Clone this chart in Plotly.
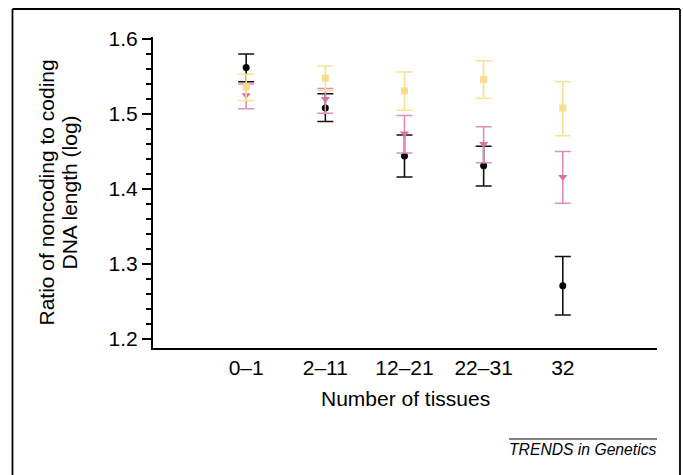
import plotly.graph_objects as go

categories = ["0–1", "2–11", "12–21", "22–31", "32"]

# Series: black circles
black_y = [1.562, 1.508, 1.444, 1.431, 1.271]
black_hi = [1.580, 1.527, 1.472, 1.457, 1.310]
black_lo = [1.543, 1.490, 1.416, 1.404, 1.232]

# Series: pink triangles
pink_y = [1.525, 1.520, 1.474, 1.460, 1.416]
pink_hi = [1.540, 1.534, 1.498, 1.483, 1.450]
pink_lo = [1.507, 1.501, 1.448, 1.435, 1.381]

# Series: yellow squares
yellow_y = [1.536, 1.548, 1.531, 1.546, 1.508]
yellow_hi = [1.553, 1.564, 1.556, 1.571, 1.543]
yellow_lo = [1.518, 1.531, 1.505, 1.521, 1.471]

y_ticks = [1.2, 1.3, 1.4, 1.5, 1.6]

FONT = "Liberation Sans, Arial, Helvetica, sans-serif"
FS = 21


def series(y, hi, lo, color, bar_color, symbol, size):
    return go.Scatter(
        x=categories,
        y=y,
        mode="markers",
        marker=dict(color=color, symbol=symbol, size=size, line=dict(width=0)),
        error_y=dict(
            type="data",
            symmetric=False,
            array=[h - v for h, v in zip(hi, y)],
            arrayminus=[v - l for v, l in zip(y, lo)],
            color=bar_color,
            thickness=1.6,
            width=8,
        ),
        showlegend=False,
        cliponaxis=False,
    )


fig = go.Figure()
fig.add_trace(series(black_y, black_hi, black_lo, "#000000", "#111111", "circle", 7))
fig.add_trace(series(pink_y, pink_hi, pink_lo, "#D672A5", "#E08DB9", "triangle-down", 8))
fig.add_trace(series(yellow_y, yellow_hi, yellow_lo, "#F8DC8C", "#F9E196", "square", 7))

fig.update_layout(
    width=683,
    height=475,
    margin=dict(l=153, r=26, t=37, b=127),
    paper_bgcolor="white",
    plot_bgcolor="white",
    font=dict(family=FONT, color="#000000", size=FS),
    xaxis=dict(
        type="category",
        range=[-1.177, 5.19],
        showline=True,
        linecolor="#000000",
        linewidth=1.8,
        showgrid=False,
        zeroline=False,
        ticks="",
        tickfont=dict(size=FS),
    ),
    yaxis=dict(
        range=[1.188, 1.6027],
        showline=True,
        linecolor="#000000",
        linewidth=2,
        showgrid=False,
        zeroline=False,
        ticks="outside",
        ticklen=9,
        tickwidth=1.5,
        tickcolor="#000000",
        tickvals=y_ticks,
        ticktext=[f"{v:.1f}" for v in y_ticks],
        tickfont=dict(size=FS),
        minor=dict(dtick=0.02, tick0=1.2, ticks="outside", ticklen=5, tickwidth=1.5, tickcolor="#000000", showgrid=False),
    ),
    annotations=[
        dict(
            text="Ratio of noncoding to coding",
            x=(46 - 153) / 504, y=0.5, xref="paper", yref="paper",
            xanchor="center", yanchor="middle", textangle=-90,
            showarrow=False, font=dict(size=FS),
        ),
        dict(
            text="DNA length (log)",
            x=(69 - 153) / 504, y=0.5, xref="paper", yref="paper",
            xanchor="center", yanchor="middle", textangle=-90,
            showarrow=False, font=dict(size=FS),
        ),
        dict(
            text="Number of tissues",
            x=0.5, y=-0.1608, xref="paper", yref="paper",
            xanchor="center", yanchor="middle",
            showarrow=False, font=dict(size=FS),
        ),
        dict(
            text="<i>TRENDS in Genetics</i>",
            x=0.853, y=-0.3248, xref="paper", yref="paper",
            xanchor="center", yanchor="middle",
            showarrow=False, font=dict(size=15.7),
        ),
    ],
    shapes=[
        dict(type="line", xref="paper", yref="paper", x0=-0.2788, x1=-0.2788, y0=1.09, y1=-0.5,
             line=dict(color="#000000", width=1.8)),
        dict(type="line", xref="paper", yref="paper", x0=-0.2788, x1=1.0456, y0=1.09, y1=1.09,
             line=dict(color="#000000", width=1.8)),
        dict(type="line", xref="paper", yref="paper", x0=1.0456, x1=1.0456, y0=1.09, y1=-0.5,
             line=dict(color="#000000", width=1.8)),
        dict(type="line", xref="paper", yref="paper", x0=0.7063, x1=1.0, y0=-0.2926, y1=-0.2926,
             line=dict(color="#000000", width=1)),
    ],
)

fig.write_html("out.html")
